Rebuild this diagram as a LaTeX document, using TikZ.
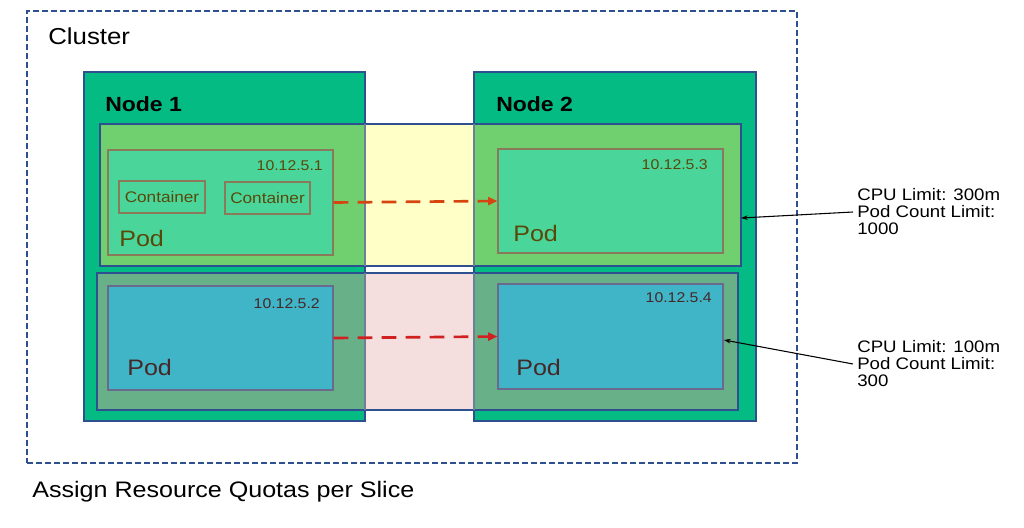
\documentclass[tikz,border=0pt]{standalone}
\usepackage{fontspec}
\setmainfont[FakeStretch=1.12]{Liberation Sans}
\usetikzlibrary{arrows.meta,fit}
\definecolor{nodegreen}{RGB}{5,187,132}
\definecolor{edgeblue}{RGB}{47,80,143}
\definecolor{sliceagreen}{RGB}{112,208,112}
\definecolor{sliceayellow}{RGB}{255,255,200}
\definecolor{slicebgreen}{RGB}{104,176,136}
\definecolor{slicebpink}{RGB}{244,222,222}
\definecolor{podgreen}{RGB}{74,214,154}
\definecolor{podgreenedge}{RGB}{138,122,90}
\definecolor{podblue}{RGB}{64,181,200}
\definecolor{podblueedge}{RGB}{106,106,143}
\definecolor{olivetext}{RGB}{90,72,10}
\definecolor{maroontext}{RGB}{70,40,40}
\definecolor{arroworange}{RGB}{214,68,16}
\definecolor{arrowred}{RGB}{208,32,32}
\definecolor{throughline}{RGB}{110,128,150}
\begin{document}
\begin{tikzpicture}[x=0.75pt,y=-0.75pt,
  box/.style={inner sep=0pt, line width=0.9pt},
  nodebox/.style={box, fill=nodegreen, draw=edgeblue},
  slicebox/.style={box, draw=edgeblue},
  podg/.style={box, fill=podgreen, draw=podgreenedge},
  podb/.style={box, fill=podblue, draw=podblueedge},
  cbox/.style={box, draw=podgreenedge, line width=1pt},
  txt/.style={inner sep=0pt, anchor=west},
  iptxt/.style={inner sep=0pt, anchor=east, font=\fontsize{10.6}{13}\selectfont},
  podtxt/.style={txt, font=\fontsize{16.8}{20}\selectfont},
  limtxt/.style={inner ysep=0pt, inner xsep=3pt, anchor=west, align=left, font=\fontsize{12.5}{12.75}\selectfont},
  through/.style={throughline, line width=0.8pt},
  flow/.style={line width=2pt, dash pattern=on 11pt off 7pt, -{Triangle[length=7pt,width=6pt]}},
  limarrow/.style={black, line width=0.8pt, -{Stealth[length=5pt,width=3.5pt]}}
]
\useasboundingbox (0,0) rectangle (1024,528);
\fill[white] (0,0) rectangle (1024,528);

% cluster
\node[fit={(27,11)(797,463)}, box, draw=edgeblue, dash pattern=on 4.5pt off 2.25pt] (cluster) {};
\node[txt, font=\fontsize{17.3}{20}\selectfont] (clustertxt) at (48,36) {Cluster};

% nodes
\node[fit={(84,72)(365,421)}, nodebox] (n1) {};
\node[fit={(474,72)(756,421)}, nodebox] (n2) {};
\node[txt, font=\bfseries\fontsize{15.4}{18}\selectfont] (n1txt) at (105,104) {Node 1};
\node[txt, font=\bfseries\fontsize{15.4}{18}\selectfont] (n2txt) at (496,104) {Node 2};

% slice 1
\fill[sliceayellow] (100,124) rectangle (741,266);
\fill[sliceagreen] (100,124) rectangle (365,266);
\fill[sliceagreen] (474,124) rectangle (741,266);
\node[fit={(100,124)(741,266)}, slicebox] (s1) {};
\draw[through] (365,124) -- (365,266);
\draw[through] (474,124) -- (474,266);

% slice 2
\fill[slicebpink] (97,273) rectangle (738,410);
\fill[slicebgreen] (97,273) rectangle (365,410);
\fill[slicebgreen] (474,273) rectangle (738,410);
\node[fit={(97,273)(738,410)}, slicebox] (s2) {};
\draw[through] (365,273) -- (365,410);
\draw[through] (474,273) -- (474,410);

% pods
\node[fit={(108,150)(333,255)}, podg] (p1) {};
\node[fit={(498,149)(723,253)}, podg] (p3) {};
\node[fit={(108,286)(333,390)}, podb] (p2) {};
\node[fit={(498,284)(723,389)}, podb] (p4) {};

% containers
\node[fit={(119,181)(205,213)}, cbox] (c1) {};
\node[fit={(225,182)(310,214)}, cbox] (c2) {};
\node[inner sep=0pt, text=olivetext, font=\fontsize{11.5}{13}\selectfont] (c1txt) at (c1.center) {Container};
\node[inner sep=0pt, text=olivetext, font=\fontsize{11.5}{13}\selectfont] (c2txt) at (c2.center) {Container};

% ip labels
\node[iptxt, text=olivetext] (ip1) at (323,166) {10.12.5.1};
\node[iptxt, text=olivetext] (ip3) at (708,165) {10.12.5.3};
\node[iptxt, text=maroontext] (ip2) at (320,304) {10.12.5.2};
\node[iptxt, text=maroontext] (ip4) at (712,298) {10.12.5.4};

% pod labels
\node[podtxt, text=olivetext] (pod1) at (119,238) {Pod};
\node[podtxt, text=olivetext] (pod3) at (513,233) {Pod};
\node[podtxt, text=maroontext] (pod2) at (127,367) {Pod};
\node[podtxt, text=maroontext] (pod4) at (516,367) {Pod};

% flows
\draw[flow, arroworange] (p1.east) -- (p3.west);
\draw[flow, arrowred] (p2.east) -- (p4.west);

% limits
\node[limtxt] (l1) at (853,212) {CPU Limit: 300m\\Pod Count Limit:\\1000};
\node[limtxt] (l2) at (853,364) {CPU Limit: 100m\\Pod Count Limit:\\300};
\coordinate (t1) at (741,218);
\coordinate (t2) at (724,340);
\draw[limarrow] (l1.west) -- (t1);
\draw[limarrow] (l2.west) -- (t2);

% caption
\node[txt, font=\fontsize{16.8}{20}\selectfont] (caption) at (32,492) {Assign Resource Quotas per Slice};
\end{tikzpicture}
\end{document}
